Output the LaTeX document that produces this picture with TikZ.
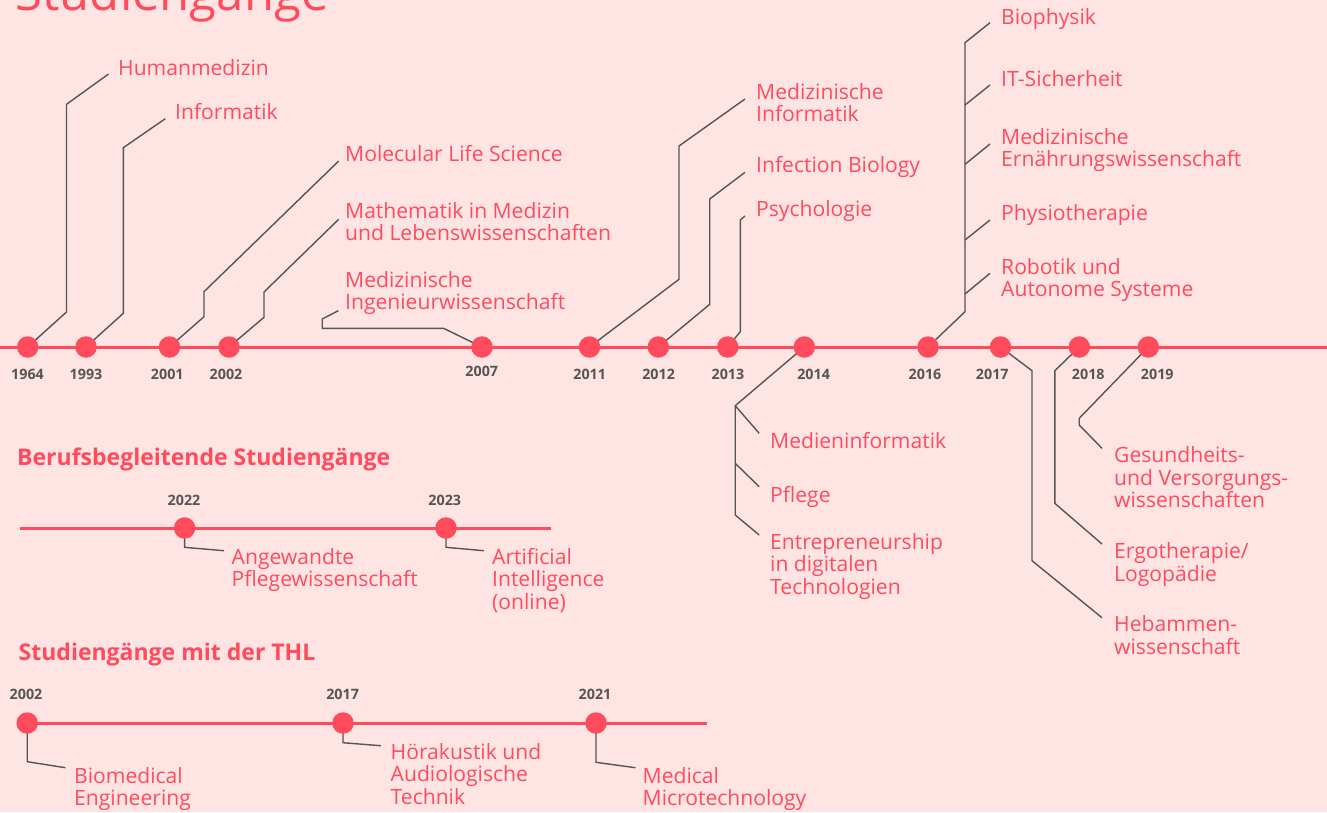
\documentclass[tikz,border=0pt]{standalone}
\usepackage{fontspec}
\setmainfont{Open Sans}
\definecolor{bgpink}{HTML}{FFE4E4}
\definecolor{tred}{HTML}{FF4B5C}
\definecolor{tgray}{HTML}{555555}
\pgfdeclarelayer{back}
\pgfsetlayers{back,main}
\tikzset{
  conn/.style={draw=tgray, line width=1.4pt, line join=miter},
  tline/.style={draw=tred, line width=3pt},
  tdot/.style={circle, fill=tred, minimum size=21.5pt, inner sep=0pt},
  lbl/.style={anchor=base west, inner sep=0pt, text=tred, font=\fontsize{21.1}{22.5}\selectfont, align=left},
  yr/.style={anchor=base, inner sep=0pt, text=tgray, font=\bfseries\fontsize{14.3}{16}\selectfont},
  head/.style={anchor=base west, inner sep=0pt, text=tred, font=\bfseries\fontsize{23}{26}\selectfont},
}
\begin{document}
\begin{tikzpicture}[x=1pt,y=-1pt]
\begin{pgfonlayer}{back}
\fill[bgpink] (0,0) rectangle (1327,812);
\end{pgfonlayer}
\useasboundingbox (0,0) rectangle (1327,812);
\clip (0,0) rectangle (1327,812);

% title
\node[anchor=base west, inner sep=0pt, text=tred, font=\fontsize{49}{54}\selectfont] (title) at (15.5,10.5) {Studiengänge};

% main timeline dots
\node[tdot] (d1964) at (27.7,347) {};
\node[tdot] (d1993) at (86,347) {};
\node[tdot] (d2001) at (169.5,347) {};
\node[tdot] (d2002) at (229,347) {};
\node[tdot] (d2007) at (482,347) {};
\node[tdot] (d2011) at (589.5,347) {};
\node[tdot] (d2012) at (658.3,347) {};
\node[tdot] (d2013) at (727.7,347) {};
\node[tdot] (d2014) at (804.3,347) {};
\node[tdot] (d2016) at (928,347) {};
\node[tdot] (d2017) at (1000.5,347) {};
\node[tdot] (d2018) at (1079.3,347) {};
\node[tdot] (d2019) at (1148.3,347) {};
\coordinate (mstart) at (0,347);
\coordinate (mend) at (1327,347);

% year labels
\node[yr] (y1964) at (27.5,379) {1964};
\node[yr] (y1993) at (86,379) {1993};
\node[yr] (y2001) at (167.3,379) {2001};
\node[yr] (y2002) at (226,379) {2002};
\node[yr] (y2007) at (481.8,376) {2007};
\node[yr] (y2011) at (589.7,379) {2011};
\node[yr] (y2012) at (658.6,379) {2012};
\node[yr] (y2013) at (727.9,379) {2013};
\node[yr] (y2014) at (813.6,379) {2014};
\node[yr] (y2016) at (925,379) {2016};
\node[yr] (y2017) at (992.3,379) {2017};
\node[yr] (y2018) at (1088.3,379) {2018};
\node[yr] (y2019) at (1157.3,379) {2019};

% labels main (anchor = baseline of last line)
\node[lbl] (lHum) at (118,75.5) {Humanmedizin};
\node[lbl] (lInf) at (175,119) {Informatik};
\node[lbl] (lMol) at (345,161.3) {Molecular Life Science};
\node[lbl] (lMat) at (345,240.8) {Mathematik in Medizin\\und Lebenswissenschaften};
\node[lbl] (lIng) at (345,309.8) {Medizinische\\Ingenieurwissenschaft};
\node[lbl] (lMI) at (756,121.8) {Medizinische\\Informatik};
\node[lbl] (lIB) at (756,172.3) {Infection Biology};
\node[lbl] (lPsy) at (756,216.7) {Psychologie};
\node[lbl] (lBio) at (1001,24) {Biophysik};
\node[lbl] (lIT) at (1001,86.7) {IT-Sicherheit};
\node[lbl] (lErn) at (1001,166.5) {Medizinische\\Ernährungswissenschaft};
\node[lbl] (lPhy) at (1001,220.7) {Physiotherapie};
\node[lbl] (lRob) at (1001,296.5) {Robotik und\\Autonome Systeme};
\node[lbl] (lMed) at (770,448.3) {Medieninformatik};
\node[lbl] (lPfl) at (770,502.7) {Pflege};
\node[lbl] (lEnt) at (770,594.3) {Entrepreneurship\\in digitalen\\Technologien};
\node[lbl] (lGes) at (1114,507.7) {Gesundheits-\\und Versorgungs-\\wissenschaften};
\node[lbl] (lErg) at (1114,581) {Ergotherapie/\\Logopädie};
\node[lbl] (lHeb) at (1114,654.2) {Hebammen-\\wissenschaft};

% Berufsbegleitende
\node[head] (hBer) at (17,465) {Berufsbegleitende Studiengänge};
\node[tdot] (b2022) at (184.6,528) {};
\node[tdot] (b2023) at (446,528) {};
\coordinate (bstart) at (19.5,528);
\coordinate (bend) at (551,528);
\node[yr] (yb2022) at (184,505.5) {2022};
\node[yr] (yb2023) at (444.8,505.5) {2023};
\node[lbl] (lAng) at (231.5,586.8) {Angewandte\\Pflegewissenschaft};
\node[lbl] (lAI) at (492,609.3) {Artificial\\Intelligence\\(online)};

% THL
\node[head] (hTHL) at (18.5,660.7) {Studiengänge mit der THL};
\node[tdot] (t2002) at (27.2,723) {};
\node[tdot] (t2017) at (343,723) {};
\node[tdot] (t2021) at (596,723) {};
\coordinate (tend) at (707,723);
\node[yr] (yt2002) at (26,699) {2002};
\node[yr] (yt2017) at (342.6,699) {2017};
\node[yr] (yt2021) at (595,699) {2021};
\node[lbl] (lBME) at (74,805.8) {Biomedical\\Engineering};
\node[lbl] (lHoer) at (390.5,804.3) {Hörakustik und\\Audiologische\\Technik};
\node[lbl] (lMT) at (642.5,805.8) {Medical\\Microtechnology};

\begin{pgfonlayer}{back}
\draw[tline] (mstart) -- (mend);
\draw[tline] (bstart) -- (bend);
\draw[tline] (t2002.center) -- (tend);
% connectors main
\draw[conn] (d1964.center) -- (66.5,312) -- (66.5,104.3) -- (108.5,74);
\draw[conn] (d1993.center) -- (123.3,313.3) -- (123.3,147.7) -- (165.3,118.7);
\draw[conn] (d2001.center) -- (204,316.7) -- (204,291.7) -- (338.7,161);
\draw[conn] (d2002.center) -- (264,317.3) -- (264,292) -- (338.7,219.3);
\draw[conn] (d2007.center) -- (443.5,328.3) -- (322.2,328.3) -- (322.2,319) -- (338.3,310.7);
\draw[conn] (d2011.center) -- (679,279.3) -- (679,146) -- (745,99);
\draw[conn] (d2012.center) -- (709.7,304.3) -- (709.7,199) -- (745,172.3);
\draw[conn] (d2013.center) -- (740.3,331.7) -- (740.3,220) -- (745,216);
\draw[conn] (d2014.center) -- (735.2,405.7) -- (735.2,515) -- (759.2,535);
\draw[conn] (735.2,405.7) -- (759.2,433.3);
\draw[conn] (735.2,463.3) -- (759.2,486.7);
\draw[conn] (d2016.center) -- (965,311.7) -- (965,42.7) -- (990,22.7);
\draw[conn] (965,105) -- (990,85);
\draw[conn] (965,164.3) -- (990,144);
\draw[conn] (965,240) -- (990,220);
\draw[conn] (965,294) -- (990,273.3);
\draw[conn] (d2017.center) -- (1032,370.7) -- (1032,560.7) -- (1102,617.7);
\draw[conn] (d2018.center) -- (1054.8,370.7) -- (1054.8,503.3) -- (1102,544);
\draw[conn] (d2019.center) -- (1079.2,418.3) -- (1079.2,425) -- (1102,448.3);
% connectors Berufsbegleitend
\draw[conn] (b2022.center) -- (184.6,547.3) -- (224,550.7);
\draw[conn] (b2023.center) -- (446,547.3) -- (483.8,550.7);
% connectors THL
\draw[conn] (t2002.center) -- (27.2,761.7) -- (65.4,767.7);
\draw[conn] (t2017.center) -- (343,742.7) -- (380.8,745.7);
\draw[conn] (t2021.center) -- (596,762.3) -- (635.5,767.7);
\end{pgfonlayer}
\end{tikzpicture}
\end{document}
